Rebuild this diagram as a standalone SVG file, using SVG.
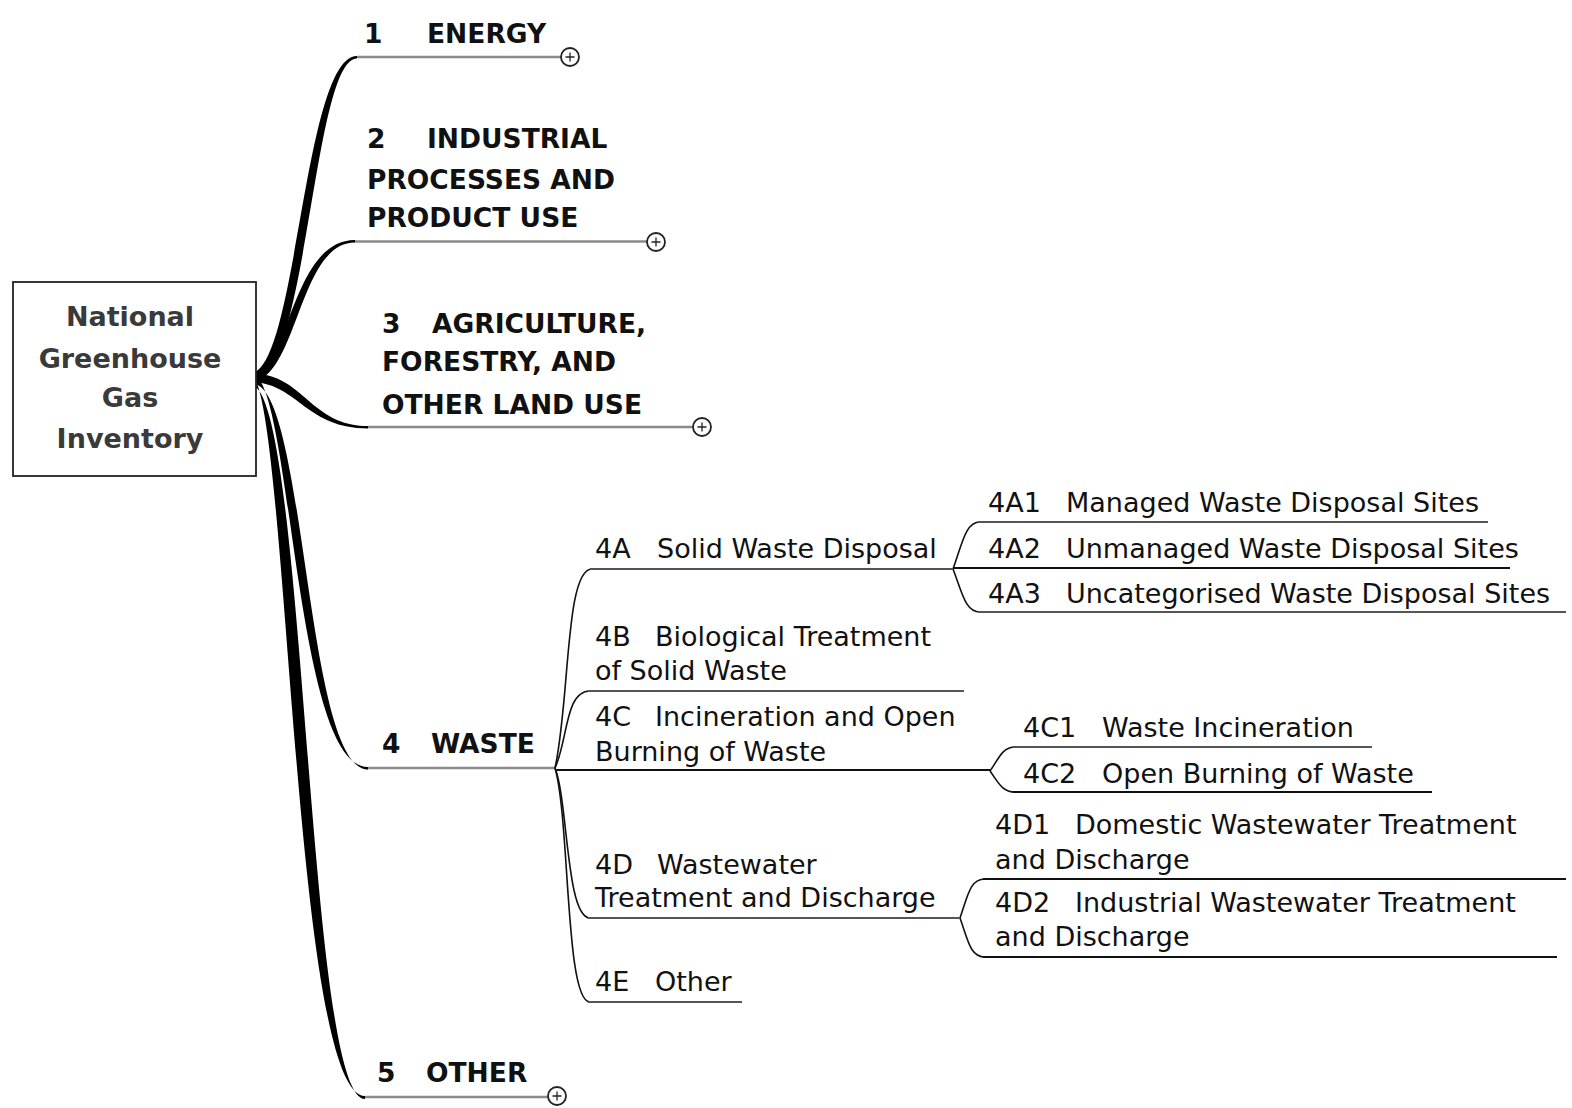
<svg xmlns="http://www.w3.org/2000/svg" width="1572" height="1108" viewBox="0 0 1572 1108">
<style>
.t1{font-family:"DejaVu Sans","Liberation Sans",sans-serif;font-weight:bold;font-size:26.5px;fill:#111}
.t2{font-family:"DejaVu Sans","Liberation Sans",sans-serif;font-size:27px;fill:#111}
.root{font-family:"DejaVu Sans","Liberation Sans",sans-serif;font-weight:bold;font-size:27px;fill:#3a3a3a;text-anchor:middle}
.hl{stroke:#8a8a8a;stroke-width:2.5;fill:none}
.ul{stroke:#555;stroke-width:2;fill:none}
.ulk{stroke:#111;stroke-width:2;fill:none}
.thin{stroke:#111;stroke-width:1.6;fill:none}
.taper{fill:#000}
.exp{fill:#fff;stroke:#222;stroke-width:1.8}
.plus{stroke:#222;stroke-width:1.3}
</style>
<defs>
<g id="expander"><circle class="exp" r="9"/><path class="plus" d="M-4.5,0 H4.5 M0,-4.5 V4.5"/></g>
</defs>
<g id="connectors">
<path class="taper" d="M252,373 C297,366 304,56 357,56 L357,58.5 C313,58.5 308,376 252,384 Z"/>
<path class="taper" d="M252,374 C290,368 292,240 355,240 L355,242.5 C299,242.5 298,376 252,382 Z"/>
<path class="taper" d="M252,374 C302,372 310,426 368,426 L368,428.5 C306,428.5 298,384 252,382 Z"/>
<path class="taper" d="M252,374 C292,378 294,767 368,767 L368,769.5 C305,769.5 306,380 252,384 Z"/>
<path class="taper" d="M250,374 C288,378 292,1096 365,1096 L365,1099 C306,1099 306,378 250,385 Z"/>
<path class="hl" d="M357,57 H561"/>
<path class="hl" d="M355,241.5 H647"/>
<path class="hl" d="M368,427 H693"/>
<path class="hl" d="M368,768 H555"/>
<path class="hl" d="M365,1097 H548"/>
<path class="thin" d="M555,768 C570,700 565,569 592,569"/>
<path class="thin" d="M555,768 C568,740 565,691 590,691"/>
<path class="thin" d="M555,768 C568,800 566,918 590,918"/>
<path class="thin" d="M555,768 C570,820 565,1002 590,1002"/>
<path class="thin" d="M953,569 C962,545 965,522 980,522"/>
<path class="thin" d="M953,569 C962,592 965,612 980,612"/>
<path class="thin" d="M990,771 C998,760 1002,747 1015,747"/>
<path class="thin" d="M990,771 C998,782 1002,792 1015,792"/>
<path class="thin" d="M960,918 C968,895 970,879 985,879"/>
<path class="thin" d="M960,918 C968,940 970,957 985,957"/>
<path class="ul" d="M590,569 H953"/>
<path class="ul" d="M588,691 H964"/>
<path class="ulk" d="M555,770 H990"/>
<path class="ul" d="M588,918 H960"/>
<path class="ul" d="M588,1002 H742"/>
<path class="ul" d="M978,522 H1488"/>
<path class="ulk" d="M953,568 H1510"/>
<path class="ul" d="M978,612 H1566"/>
<path class="ul" d="M1013,747 H1372"/>
<path class="ulk" d="M1013,792 H1432"/>
<path class="ulk" d="M983,879 H1566"/>
<path class="ulk" d="M983,957 H1557"/>
</g>
<g id="root">
<rect x="13" y="282" width="243" height="194" fill="#fff" stroke="#222" stroke-width="1.8"/>
<text class="root" x="130" y="326">National</text>
<text class="root" x="130" y="368">Greenhouse</text>
<text class="root" x="130" y="407">Gas</text>
<text class="root" x="130" y="448">Inventory</text>
</g>
<g id="n1">
<text class="t1" y="43"><tspan x="364">1</tspan><tspan x="427">ENERGY</tspan></text>
<use href="#expander" x="570" y="57"/>
</g>
<g id="n2">
<text class="t1" y="148"><tspan x="367">2</tspan><tspan x="427">INDUSTRIAL</tspan></text>
<text class="t1" x="367" y="189">PROCESSES AND</text>
<text class="t1" x="367" y="227">PRODUCT USE</text>
<use href="#expander" x="656" y="242"/>
</g>
<g id="n3">
<text class="t1" y="333"><tspan x="382">3</tspan><tspan x="432">AGRICULTURE,</tspan></text>
<text class="t1" x="382" y="371">FORESTRY, AND</text>
<text class="t1" x="382" y="414">OTHER LAND USE</text>
<use href="#expander" x="702" y="427"/>
</g>
<g id="n4">
<text class="t1" y="753"><tspan x="382">4</tspan><tspan x="431">WASTE</tspan></text>
</g>
<g id="n5">
<text class="t1" y="1082"><tspan x="377">5</tspan><tspan x="426">OTHER</tspan></text>
<use href="#expander" x="557" y="1096"/>
</g>
<g id="n4A">
<text class="t2" y="558"><tspan x="595">4A</tspan><tspan x="657">Solid Waste Disposal</tspan></text>
</g>
<g id="n4B">
<text class="t2" y="646"><tspan x="595">4B</tspan><tspan x="655">Biological Treatment</tspan></text>
<text class="t2" x="595" y="680">of Solid Waste</text>
</g>
<g id="n4C">
<text class="t2" y="726"><tspan x="595">4C</tspan><tspan x="655">Incineration and Open</tspan></text>
<text class="t2" x="595" y="761">Burning of Waste</text>
</g>
<g id="n4D">
<text class="t2" y="874"><tspan x="595">4D</tspan><tspan x="657">Wastewater</tspan></text>
<text class="t2" x="595" y="907">Treatment and Discharge</text>
</g>
<g id="n4E">
<text class="t2" y="991"><tspan x="595">4E</tspan><tspan x="655">Other</tspan></text>
</g>
<g id="n4A1">
<text class="t2" y="512"><tspan x="988">4A1</tspan><tspan x="1066">Managed Waste Disposal Sites</tspan></text>
</g>
<g id="n4A2">
<text class="t2" y="558"><tspan x="988">4A2</tspan><tspan x="1066">Unmanaged Waste Disposal Sites</tspan></text>
</g>
<g id="n4A3">
<text class="t2" y="603"><tspan x="988">4A3</tspan><tspan x="1066">Uncategorised Waste Disposal Sites</tspan></text>
</g>
<g id="n4C1">
<text class="t2" y="737"><tspan x="1023">4C1</tspan><tspan x="1102">Waste Incineration</tspan></text>
</g>
<g id="n4C2">
<text class="t2" y="783"><tspan x="1023">4C2</tspan><tspan x="1102">Open Burning of Waste</tspan></text>
</g>
<g id="n4D1">
<text class="t2" y="834"><tspan x="995">4D1</tspan><tspan x="1075">Domestic Wastewater Treatment</tspan></text>
<text class="t2" x="995" y="869">and Discharge</text>
</g>
<g id="n4D2">
<text class="t2" y="912"><tspan x="995">4D2</tspan><tspan x="1075">Industrial Wastewater Treatment</tspan></text>
<text class="t2" x="995" y="946">and Discharge</text>
</g>
</svg>
